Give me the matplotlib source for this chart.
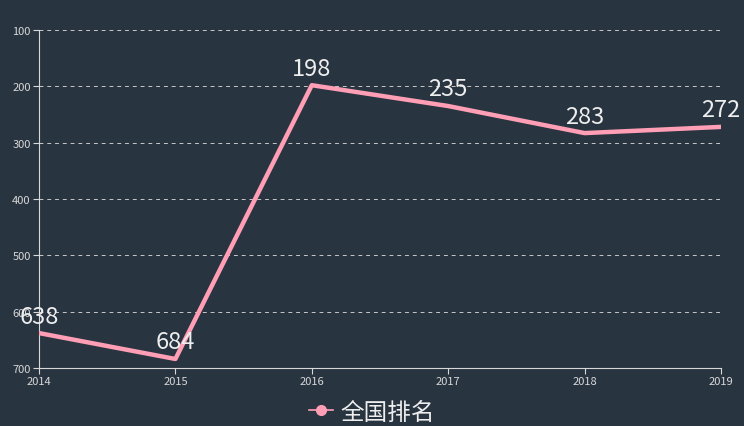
import matplotlib
matplotlib.use("Agg")
import matplotlib.pyplot as plt
from matplotlib.lines import Line2D

plt.rcParams['font.family'] = ['Noto Sans CJK SC', 'DejaVu Sans']

years = ["2014", "2015", "2016", "2017", "2018", "2019"]
ranks = [638, 684, 198, 235, 283, 272]
series_name = "全国排名"

bg = "#283440"
pink = "#ff9eb5"
fg = "#d8d8d8"

fig = plt.figure(figsize=(7.44, 4.27), dpi=100, facecolor=bg)
ax = fig.add_axes([39 / 744, 1 - 369 / 427, 682 / 744, 338 / 427])
ax.set_facecolor(bg)

x = list(range(len(years)))
ax.plot(x, ranks, color=pink, lw=3.2, solid_joinstyle="round", zorder=3)
for xi, v in zip(x, ranks):
    ax.annotate(str(v), (xi, v), xytext=(0, 4), textcoords="offset points",
                ha="center", va="bottom", fontsize=17, color="#eeeeee", zorder=4)

ax.set_xlim(0, len(years) - 1)
ax.set_ylim(700, 100)
ax.set_xticks(x)
ax.set_xticklabels(years)
ax.set_yticks([100, 200, 300, 400, 500, 600, 700])
ax.tick_params(colors=fg, labelsize=8, length=4, width=0.8, pad=2)
for s in ["top", "right"]:
    ax.spines[s].set_visible(False)
for s in ["left", "bottom"]:
    ax.spines[s].set_color(fg)
    ax.spines[s].set_linewidth(0.8)
ax.grid(axis="y", color="#c8c8c8", ls=(0, (4, 4)), lw=0.7)
ax.set_axisbelow(True)

handle = Line2D([], [], color=pink, lw=1.2, marker="o", markersize=7,
                markerfacecolor=pink, markeredgecolor=pink)
fig.legend([handle], [series_name], loc="center", bbox_to_anchor=(0.5, 1 - 413 / 427),
           frameon=False, fontsize=17, labelcolor="#eeeeee", handlelength=1.0,
           handletextpad=0.3)

fig.savefig("out.png", dpi=100, facecolor=bg)
